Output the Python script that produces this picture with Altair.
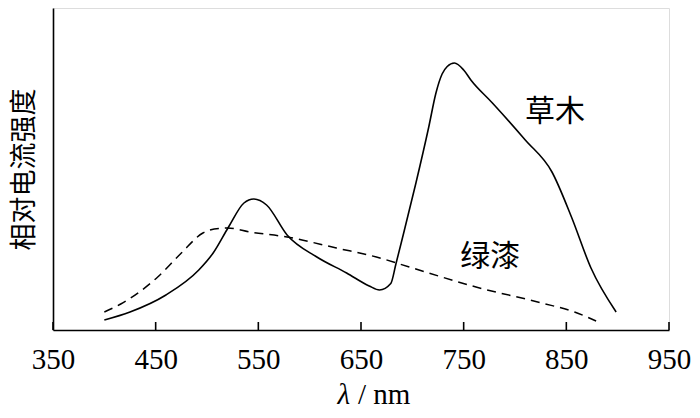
import altair as alt
import pandas as pd

# 草木 (solid)
grass_wl = [400, 425, 460, 492, 506, 521, 536, 545.5, 558, 578, 607, 636, 658, 668, 679, 684, 690.6, 703.5, 716, 723, 729, 734, 741, 750, 757, 778, 810, 836, 855, 874, 898.5]
grass_val = [10, 18, 35, 60, 77, 103, 127, 131, 125, 95, 73, 57, 44, 40, 46.5, 66, 93, 147, 203, 237, 256, 263.5, 267, 260, 250, 227, 190, 158, 113, 62, 18]

# 绿漆 (dashed)
paint_wl = [400, 416, 452, 475, 496, 507, 520, 542, 578, 626, 665, 697, 762, 826, 858, 879]
paint_val = [18, 26, 53, 77, 97, 101, 102, 98, 93, 82, 73, 63, 43, 27, 18, 9]

tick_values = [350, 450, 550, 650, 750, 850, 950]

label_text = ["草木", "绿漆"]
label_wl = [839, 776]
label_val = [218, 73]

W, H = 616, 322
SERIF = "Liberation Serif"
CJK = "Noto Sans CJK SC"

grass = pd.DataFrame({"wl": grass_wl, "v": grass_val})
paint = pd.DataFrame({"wl": paint_wl, "v": paint_val})
ticks = pd.DataFrame({"wl": tick_values})
labels = pd.DataFrame({"t": label_text, "wl": label_wl, "v": label_val})

xscale = alt.Scale(domain=[350, 950], nice=False, zero=False)
yscale = alt.Scale(domain=[0, 322], nice=False, zero=True)

xaxis = alt.Axis(values=tick_values, title=None, ticks=False, tickSize=0, labelFont=SERIF,
                 labelFontSize=29, labelColor="black", labelPadding=15, grid=False,
                 domainColor="black", domainWidth=1.6, labelFlush=False)
yaxis = alt.Axis(title="相对电流强度", titleFont=CJK, titleFontSize=27, titleFontWeight="normal",
                 titleColor="black", titlePadding=15, labels=False, ticks=False, grid=False,
                 domainColor="black", domainWidth=1.6)

line_grass = alt.Chart(grass).mark_line(color="black", strokeWidth=1.6, interpolate="monotone").encode(
    x=alt.X("wl:Q", scale=xscale, axis=xaxis),
    y=alt.Y("v:Q", scale=yscale, axis=yaxis),
)

line_paint = alt.Chart(paint).mark_line(color="black", strokeWidth=1.5, strokeDash=[9, 6],
                                        interpolate="monotone").encode(
    x=alt.X("wl:Q", scale=xscale),
    y=alt.Y("v:Q", scale=yscale),
)

tick_rules = alt.Chart(ticks).mark_rule(color="black", strokeWidth=1.6).encode(
    x=alt.X("wl:Q", scale=xscale),
    y=alt.value(H - 8),
    y2=alt.value(H),
)

text_labels = alt.Chart(labels).mark_text(font=CJK, fontSize=30, color="black",
                                          align="center", baseline="middle").encode(
    x=alt.X("wl:Q", scale=xscale),
    y=alt.Y("v:Q", scale=yscale),
    text="t:N",
)

title_df = pd.DataFrame({"a": ["λ"], "b": ["/ nm"]})
title_lambda = alt.Chart(title_df).mark_text(font=SERIF, fontSize=29, fontStyle="italic", color="black",
                                             align="right", baseline="middle").encode(
    x=alt.value(297), y=alt.value(387), text="a:N")
title_unit = alt.Chart(title_df).mark_text(font=SERIF, fontSize=29, color="black",
                                           align="left", baseline="middle").encode(
    x=alt.value(305), y=alt.value(387), text="b:N")

chart = alt.layer(line_paint, line_grass, tick_rules, text_labels, title_lambda, title_unit).properties(
    width=W, height=H,
    autosize=alt.AutoSizeParams(type="none"),
    padding={"left": 45, "top": 0, "right": 23, "bottom": 80},
).configure_view(stroke=None).configure(background="white")

chart.save("out.html", embed_options={"renderer": "svg", "actions": False})
